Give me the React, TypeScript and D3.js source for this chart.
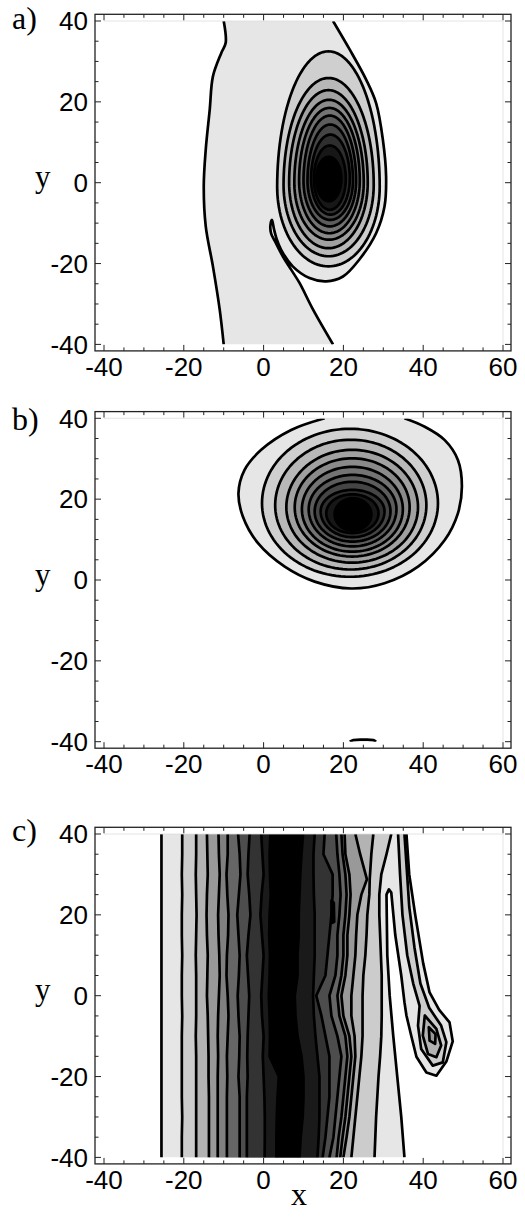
import React from 'react';
import * as d3 from 'd3';

type P = [number, number];

// ---------- axes ----------
const xMajor = [-40, -20, 0, 20, 40, 60];
const yMajor = [-40, -20, 0, 20, 40];
const xMinor = d3.range(-40, 61, 5);
const yMinor = d3.range(-40, 41, 5);
const panelNames = ['a)', 'b)', 'c)'];

// ---------- panel a ----------
const aLevels = 11;
const aLeftLine: P[] = [[-10, 40], [-9.5, 34.6], [-10.6, 32.1], [-12.7, 26.3], [-13.5, 18.1], [-14.5, 8.2], [-15, -0.9], [-14.5, -10.8], [-12.7, -20.7], [-11, -31.4], [-10, -40]];
const aRightLine: P[] = [[17.4, 40], [21.6, 32.9], [25.7, 25.5], [28.2, 19.7], [29.9, 10.6], [30.7, 1.6], [30.3, -5.9], [28.2, -12.5], [24, -19], [19.9, -23.2], [15.7, -24.4], [11.5, -23.6], [7.3, -20.7], [4.4, -16.6], [3.2, -13.7], [2.6, -11.5], [2.1, -9.2], [1.7, -10.6], [1.9, -12.6], [2.8, -14.4], [4.8, -18.2], [6.9, -21.5], [9, -24.8], [12.4, -31.4], [17.4, -40]];
const aRingTop = [32.5, 25.9, 22.9, 20.5, 18.5, 16.6, 14.4, 11.9, 9.2, 6.4];
const aRingBottom = [-20.7, -18.2, -16.2, -14.1, -12.5, -10.8, -9.2, -7.9, -6.7, -4.6];
const aRingLeft = [3.4, 5.0, 6.4, 7.7, 8.9, 10.0, 11.0, 11.9, 12.6, 13.2];
const aRingRight = [29.1, 27.6, 26.1, 25.1, 24.1, 23.2, 22.4, 21.6, 20.6, 19.5];
const aRingMid = [-1, -0.5, 0, 0, 0.5, 0.5, 0.5, 1, 1, 1];

// ---------- panel b ----------
const bLevels = 11;
const bOuterLine: P[] = [[15.3, 40], [6.9, 37.1], [-0.6, 32.2], [-4.8, 27.2], [-6.3, 21.5], [-5.2, 15.7], [-1.4, 9.1], [5.3, 3.3], [12.8, -0.4], [22, -2.1], [30.3, -0.8], [38.7, 3.3], [45.4, 9.9], [48.7, 16.5], [49.7, 23.1], [48.7, 29.7], [45.4, 34.6], [40.4, 37.9], [35.3, 40]];
const bRingTop = [37.4, 34.7, 32.2, 30.1, 28.0, 26.0, 24.3, 22.3, 21.2, 20.2];
const bRingBottom = [0.8, 2.6, 4.3, 5.8, 7.0, 8.3, 9.5, 10.6, 11.6, 12.2];
const bRingLeft = [-0.4, 2.9, 5.7, 7.8, 9.6, 11.3, 12.8, 14.3, 15.7, 17.8];
const bRingRight = [43.7, 40.8, 38.7, 36.6, 34.9, 33.3, 31.8, 30.3, 28.8, 27.0];
const bRingMid = [19, 18.5, 18, 18, 17.5, 17.5, 17, 17, 16.5, 16.2];
const bBottomSliver: P[] = [[21.6, -40], [22.5, -39.6], [25, -39.5], [27.5, -39.6], [28.2, -40]];

// ---------- panel c ----------
const cLevels = 10;
const cRows = [40, 35, 30, 25, 20, 15, 10, 5, 0, -5, -10, -15, -20, -25, -30, -35, -40];
const cL1 = [-25.6, -25.6, -25.6, -25.6, -25.6, -25.6, -25.6, -25.6, -25.6, -25.6, -25.6, -25.6, -25.6, -25.6, -25.6, -25.6, -25.6];
const cL2 = [-20.4, -20.4, -20.5, -20.4, -20.5, -20.5, -20.4, -20.5, -20.5, -20.4, -20.5, -20.5, -20.5, -20.5, -20.4, -20.5, -20.5];
const cL3 = [-16.9, -16.9, -17.0, -16.9, -16.8, -16.9, -17.0, -16.9, -16.9, -16.9, -17.0, -16.9, -16.9, -16.9, -16.9, -16.9, -16.9];
const cL4 = [-14.2, -14.1, -14.0, -14.2, -14.3, -14.2, -14.0, -14.1, -14.2, -14.0, -13.9, -13.8, -13.8, -13.7, -13.7, -13.7, -13.7];
const cL5 = [-11.3, -11.2, -11.0, -11.2, -11.4, -11.3, -11.1, -11.0, -11.2, -11.4, -11.5, -11.4, -11.5, -11.5, -11.5, -11.5, -11.5];
const cL6 = [-9.0, -9.0, -9.3, -9.1, -8.8, -8.9, -9.2, -9.3, -9.0, -8.8, -9.0, -9.2, -9.1, -9.2, -9.2, -9.2, -9.2];
const cL7 = [-6.4, -6.0, -5.8, -6.2, -6.6, -6.3, -6.0, -6.2, -6.5, -6.3, -6.0, -6.1, -6.3, -6.0, -6.0, -6.0, -6.0];
const cL8 = [-3.5, -3.8, -4.0, -3.6, -3.3, -3.8, -4.2, -3.9, -3.6, -3.8, -4.0, -4.1, -4.0, -4.2, -4.2, -4.2, -4.2];
const cL9 = [-0.6, -0.3, 0.0, -0.5, -0.8, -0.4, 0.0, -0.3, -0.6, -0.4, 0.0, -0.2, 0.0, 0.2, 0.3, 0.3, 0.25];
const cL10 = [1.7, 1.5, 1.6, 1.8, 1.5, 1.4, 1.6, 1.5, 1.3, 1.5, 1.6, 1.5, 3.8, 3.5, 3.3, 3.2, 3.2];
const cR10 = [9.9, 9.5, 9.2, 9.0, 8.8, 8.8, 8.5, 8.5, 7.8, 8.0, 8.5, 9.5, 10.0, 10.0, 9.8, 9.3, 9.0];
const cR9 = [12.8, 12.5, 12.5, 12.6, 12.8, 12.8, 12.8, 12.6, 12.4, 12.6, 13.0, 13.5, 14.0, 14.0, 14.0, 13.8, 13.5];
const cR8 = [15.3, 15.0, 17.3, 17.3, 17.0, 16.5, 16.0, 15.5, 13.2, 14.5, 15.5, 16.5, 16.5, 16.5, 16.0, 15.5, 14.8];
const cR7 = [18.2, 18.5, 19.0, 19.3, 19.0, 18.5, 18.5, 18.0, 16.5, 17.0, 18.5, 19.5, 19.0, 18.5, 18.0, 17.5, 16.5];
const cR6 = [19.5, 19.8, 20.5, 20.8, 20.5, 20.0, 20.0, 19.5, 18.5, 19.0, 20.5, 21.0, 20.5, 20.0, 19.5, 18.8, 18.3];
const cR5 = [20.3, 20.5, 21.5, 21.8, 21.5, 21.0, 21.0, 20.5, 19.5, 20.0, 21.5, 22.0, 21.5, 21.0, 20.5, 19.8, 19.2];
const cR4: P[] = [[23.0, 40], [24.2, 35], [25.9, 28.8], [24.5, 25], [23.5, 20], [23.2, 15], [23.0, 10], [22.5, 5], [22.0, 0], [22.0, -5], [22.8, -10], [23.0, -15], [22.5, -20], [22.0, -25], [21.5, -30], [20.8, -35], [20.0, -40]];
const cR3: P[] = [[27.5, 40], [27.0, 35], [26.6, 28.8], [26.5, 25], [26.0, 20], [25.8, 15], [25.5, 10], [25.0, 5], [24.8, 0], [24.8, -5], [24.8, -10], [24.5, -15], [24.0, -20], [23.5, -25], [23.0, -30], [22.5, -35], [22.0, -40]];
const cR2 = [32.0, 30.8, 29.5, 29.0, 29.0, 29.2, 29.4, 29.6, 29.6, 29.6, 29.5, 29.2, 28.8, 28.5, 28.2, 28.0, 27.8];
const cR1: P[] = [[35.8, 40], [36.5, 30], [38, 20], [40, 8], [41.6, 0.8], [44, -3.5], [46.6, -6.6], [47.4, -11.3], [45.8, -16.3], [43.3, -19.8], [40.8, -19.0], [38.3, -15.1], [37, -9.9], [35.8, -4.9], [35.3, -1.6], [34.5, 5], [33, 15], [32, 25.5], [31.4, 26.3], [30.8, 25], [31.0, 10], [31.6, 0], [32.5, -10], [33.5, -20], [34.5, -30], [35.3, -40]];
const cStalk2: P[] = [[33.7, 40], [34.2, 30], [34.8, 20], [36, 10], [37.5, 3], [39.1, -2.5], [38.7, -7.4], [39.5, -13.2], [42.4, -17.3], [44.9, -16.5], [45.8, -11.5], [44.5, -7.4], [41.5, -3], [39.3, 3], [37.8, 12], [36.5, 22], [35.3, 40]];
const cBlob3: P[] = [[40.4, -4.9], [39.9, -9.9], [41.2, -14.4], [43.3, -15.2], [44.5, -12.3], [43.3, -8.2]];
const cBlob4: P[] = [[41.4, -7.8], [41.6, -11.1], [43.0, -11.9], [43.1, -9.5]];
const cIsland8: P[] = [[17.0, 23.5], [17.6, 23.0], [17.7, 18.3], [17.1, 18.0]];

// ---------- layout ----------
const X_LEFT = 104, X_RIGHT = 503; // pixels of x=-40 and x=60
const Y40 = [21, 418.3, 834];
const PLOT_H = 323.4;
const FRAME_L = 95, FRAME_R = 511;
const TICK_FONT = '"Liberation Sans", Arial, Helvetica, sans-serif';
const SERIF = '"Liberation Serif", "Times New Roman", serif';
const LW = 2.7;

const gray = (k: number, n: number) => {
  const g = Math.round(255 * 0.9 * (1 - (k - 1) / (n - 1)));
  return `rgb(${g},${g},${g})`;
};

function ringPoints(top: number, bottom: number, left: number, right: number, mid: number): P[] {
  const cx = (left + right) / 2, rx = (right - left) / 2;
  const pts: P[] = [];
  const N = 120;
  for (let i = 0; i < N; i++) {
    const t = (i / N) * Math.PI * 2;
    const s = Math.sin(t);
    pts.push([cx + rx * Math.cos(t), mid + (s > 0 ? top - mid : mid - bottom) * s]);
  }
  return pts;
}

const zipRows = (xs: number[]): P[] => xs.map((x, i) => [x, cRows[i]] as P);

export default function App() {
  const xs = d3.scaleLinear().domain([-40, 60]).range([X_LEFT, X_RIGHT]);

  const panel = (i: number) => {
    const top = Y40[i];
    const ys = d3.scaleLinear().domain([40, -40]).range([top, top + PLOT_H]);
    const fTop = top - 6.7, fBot = top + PLOT_H + 6.5;
    const smooth = d3.line<P>().x(p => xs(p[0])).y(p => ys(p[1])).curve(d3.curveCatmullRom.alpha(0.5));
    const lin = d3.line<P>().x(p => xs(p[0])).y(p => ys(p[1]));
    const linClosed = d3.line<P>().x(p => xs(p[0])).y(p => ys(p[1])).curve(d3.curveLinearClosed);
    const band = (l: P[], r: P[], gen: d3.Line<P>) => gen(l)! + 'L' + gen([...r].reverse())!.slice(1) + 'Z';
    const clipId = `clip${i}`;
    const fills: JSX.Element[] = [];
    const lines: JSX.Element[] = [];

    if (i === 0) {
      fills.push(<path key="f1" d={band(aLeftLine, aRightLine, smooth)} fill={gray(1, aLevels)} />);
      lines.push(<path key="l1" d={smooth(aLeftLine)!} />);
      lines.push(<path key="l2" d={smooth(aRightLine)!} />);
      aRingTop.forEach((_, k) => {
        const pts = ringPoints(aRingTop[k], aRingBottom[k], aRingLeft[k], aRingRight[k], aRingMid[k]);
        fills.push(<path key={'r' + k} d={linClosed(pts)!} fill={gray(k + 2, aLevels)} />);
        lines.push(<path key={'rl' + k} d={linClosed(pts)!} />);
      });
    } else if (i === 1) {
      fills.push(<path key="f1" d={smooth(bOuterLine)! + 'Z'} fill={gray(1, bLevels)} />);
      lines.push(<path key="l1" d={smooth(bOuterLine)!} />);
      bRingTop.forEach((_, k) => {
        const pts = ringPoints(bRingTop[k], bRingBottom[k], bRingLeft[k], bRingRight[k], bRingMid[k]);
        fills.push(<path key={'r' + k} d={linClosed(pts)!} fill={gray(k + 2, bLevels)} />);
        lines.push(<path key={'rl' + k} d={linClosed(pts)!} />);
      });
      fills.push(<path key="sl" d={smooth(bBottomSliver)! + 'Z'} fill={gray(1, bLevels)} />);
      lines.push(<path key="sll" d={smooth(bBottomSliver)!} />);
    } else {
      const Ls = [cL1, cL2, cL3, cL4, cL5, cL6, cL7, cL8, cL9, cL10].map(zipRows);
      const Rs: P[][] = [cR1, zipRows(cR2), cR3, cR4, zipRows(cR5), zipRows(cR6), zipRows(cR7), zipRows(cR8), zipRows(cR9), zipRows(cR10)];
      Ls.forEach((L, k) => {
        fills.push(<path key={'cf' + k} d={band(L, Rs[k], lin)} fill={gray(k + 1, cLevels)} />);
        if (k === 1) {
          fills.push(<path key="stalk" d={lin(cStalk2)! + 'Z'} fill={gray(2, cLevels)} />);
          fills.push(<path key="b3" d={linClosed(cBlob3)!} fill={gray(3, cLevels)} />);
          fills.push(<path key="b4" d={linClosed(cBlob4)!} fill={gray(4, cLevels)} />);
        }
        lines.push(<path key={'cl' + k} d={lin(L)!} />);
        lines.push(<path key={'cr' + k} d={lin(Rs[k])!} />);
      });
      fills.push(<path key="isl" d={linClosed(cIsland8)!} fill={gray(8, cLevels)} />);
      lines.push(<path key="isll" d={linClosed(cIsland8)!} />);
      lines.push(<path key="stl" d={lin(cStalk2)!} />);
      lines.push(<path key="b3l" d={linClosed(cBlob3)!} />);
      lines.push(<path key="b4l" d={linClosed(cBlob4)!} />);
    }

    const tickLen = (major: boolean) => (major ? 6 : 3.5);
    return (
      <g key={i}>
        <defs>
          <clipPath id={clipId}>
            <rect x={xs(-40)} y={ys(40)} width={xs(60) - xs(-40)} height={ys(-40) - ys(40)} />
          </clipPath>
        </defs>
        <g clipPath={`url(#${clipId})`}>
          {fills}
          <g fill="none" stroke="#000" strokeWidth={LW} strokeLinejoin="round">{lines}</g>
        </g>
        <line x1={xs(-40)} x2={xs(60)} y1={ys(40)} y2={ys(40)} stroke="#ddd" strokeWidth={0.8} />
        <line x1={xs(60)} x2={xs(60)} y1={ys(40)} y2={ys(-40)} stroke="#ddd" strokeWidth={0.8} />
        <rect x={FRAME_L} y={fTop} width={FRAME_R - FRAME_L} height={fBot - fTop} fill="none" stroke="#222" strokeWidth={1.3} />
        <g stroke="#222" strokeWidth={1}>
          {xMinor.map(v => {
            const m = v % 20 === 0;
            return (
              <g key={'xt' + v}>
                <line x1={xs(v)} x2={xs(v)} y1={fBot} y2={fBot - tickLen(m)} />
                <line x1={xs(v)} x2={xs(v)} y1={fTop} y2={fTop + tickLen(m)} />
              </g>
            );
          })}
          {yMinor.map(v => {
            const m = v % 20 === 0;
            return (
              <g key={'yt' + v}>
                <line x1={FRAME_L} x2={FRAME_L + tickLen(m)} y1={ys(v)} y2={ys(v)} />
                <line x1={FRAME_R} x2={FRAME_R - tickLen(m)} y1={ys(v)} y2={ys(v)} />
              </g>
            );
          })}
        </g>
        <g fontFamily={TICK_FONT} fontSize={26} fill="#000">
          {xMajor.map(v => (
            <text key={'xl' + v} x={xs(v)} y={fBot + 25} textAnchor="middle">{v}</text>
          ))}
          {yMajor.map(v => (
            <text key={'yl' + v} x={88} y={ys(v) + 9.3} textAnchor="end">{v}</text>
          ))}
        </g>
        <text x={35} y={ys(0) + 4.5} fontFamily={SERIF} fontSize={31}>y</text>
        <text x={12} y={[29, 430, 841][i]} fontFamily={SERIF} fontSize={32}>{panelNames[i]}</text>
      </g>
    );
  };

  return (
    <svg width={525} height={1228} style={{ position: 'absolute', left: 0, top: 0, background: '#fff' }}>
      <rect width={525} height={1228} fill="#fff" />
      {[0, 1, 2].map(panel)}
      <text x={291} y={1205} fontFamily={SERIF} fontSize={32}>x</text>
    </svg>
  );
}
